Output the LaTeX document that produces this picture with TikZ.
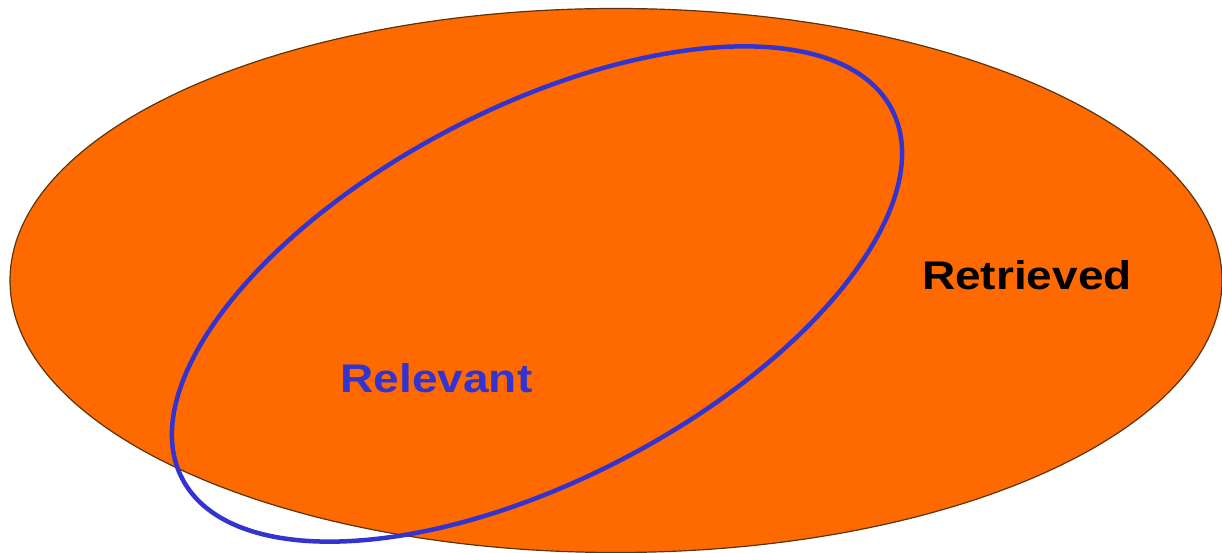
\documentclass[tikz,border=0pt]{standalone}
\usepackage{fontspec}
\setmainfont{Liberation Sans}
\definecolor{retorange}{HTML}{FF6A00}
\definecolor{reloutline}{HTML}{5A3410}
\definecolor{relblue}{HTML}{3333D0}
\begin{document}
\begin{tikzpicture}[x=1pt,y=1pt,
  setlabel/.style={font=\fontsize{40}{48}\selectfont\bfseries, anchor=base, inner sep=0pt, xscale=1.15},
  setline/.style={relblue, line width=4.5pt}]
\useasboundingbox (0,0) rectangle (1222,553);
% Retrieved set
\fill[retorange, draw=reloutline, line width=1.2pt] (616,272.5) ellipse [x radius=606, y radius=272];
% Relevant set
\draw[setline] (537,259) ellipse [x radius=400, y radius=186, rotate=27.5];
\node[setlabel, text=black] (retrieved) at (1027,263) {Retrieved};
\node[setlabel, text=relblue] (relevant) at (436.5,160) {Relevant};
\end{tikzpicture}
\end{document}
